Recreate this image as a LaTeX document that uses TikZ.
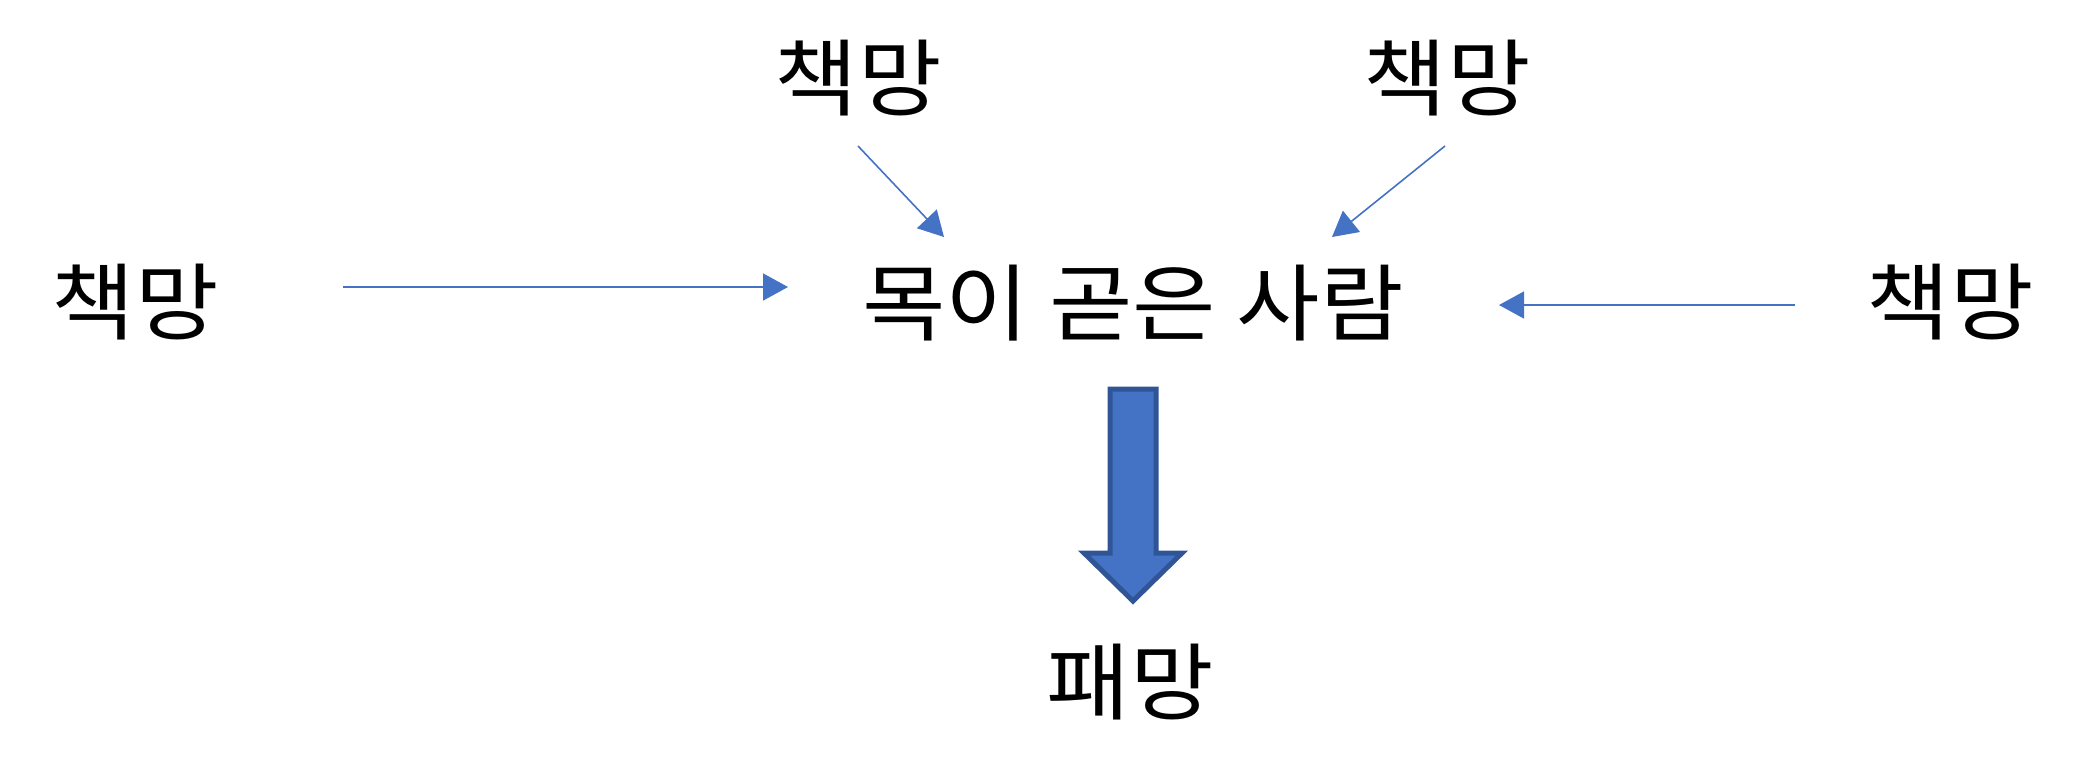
\documentclass[tikz,border=0pt]{standalone}
\usepackage{fontspec}
\newfontfamily\krfont[FakeStretch=1.08]{Noto Sans CJK KR}
\usetikzlibrary{arrows.meta,calc}
\definecolor{accentblue}{HTML}{4472C4}
\definecolor{accentdark}{HTML}{2F5597}

\begin{document}
\begin{tikzpicture}[x=0.5pt, y=-0.5pt, every node/.style={inner sep=0pt, outer sep=0pt, font=\krfont\fontsize{42}{50}\selectfont}]

\useasboundingbox (0,0) rectangle (2085,783);

% thin arrows
\tikzstyle{rebuke}=[accentblue, line width=0.8pt, -{Triangle[length=12.5pt,width=13.5pt]}]
% block arrow
\tikzstyle{fall}=[fill=accentblue, draw=accentdark, line width=2.5pt, line join=miter]

%%%%%%%%%%%%%%%%%%%%%%%%%%%%%%%%%%%%%%%%%%%%%%%%%%%%
%
%       Words
%
\node (man)     at (1133,303) {목이 곧은 사람};
\node (rebukeL) at ( 135,302) {책망};
\node (rebukeR) at (1950,302) {책망};
\node (rebukeA) at ( 858, 78) {책망};
\node (rebukeB) at (1447, 78) {책망};
\node (ruin)    at (1130,682) {패망};

%%%%%%%%%%%%%%%%%%%%%%%%%%%%%%%%%%%%%%%%%%%%%%%%%%%%
%
%       Rebukes
%
\coordinate (aL) at ( 343,287);
\coordinate (bL) at ( 788,287);
\coordinate (aR) at (1795,305);
\coordinate (bR) at (1499,305);
\coordinate (aA) at ( 858,146);
\coordinate (bA) at ( 944,237);
\coordinate (aB) at (1445,146);
\coordinate (bB) at (1332,237);

\draw [rebuke] (aL) -- (bL);
\draw [rebuke] (aR) -- (bR);
\draw [rebuke] (aA) -- (bA);
\draw [rebuke] (aB) -- (bB);

%%%%%%%%%%%%%%%%%%%%%%%%%%%%%%%%%%%%%%%%%%%%%%%%%%%%
%
%       Down to ruin
%
\coordinate (top) at (1133,389);
\draw [fall] ($(top)+(-23,0)$) -- ++(46,0) -- ++(0,164) -- ++(26,0)
  -- ($(top)+(0,212)$) -- ++(-49,-48) -- ++(26,0) -- cycle;

\end{tikzpicture}
\end{document}
